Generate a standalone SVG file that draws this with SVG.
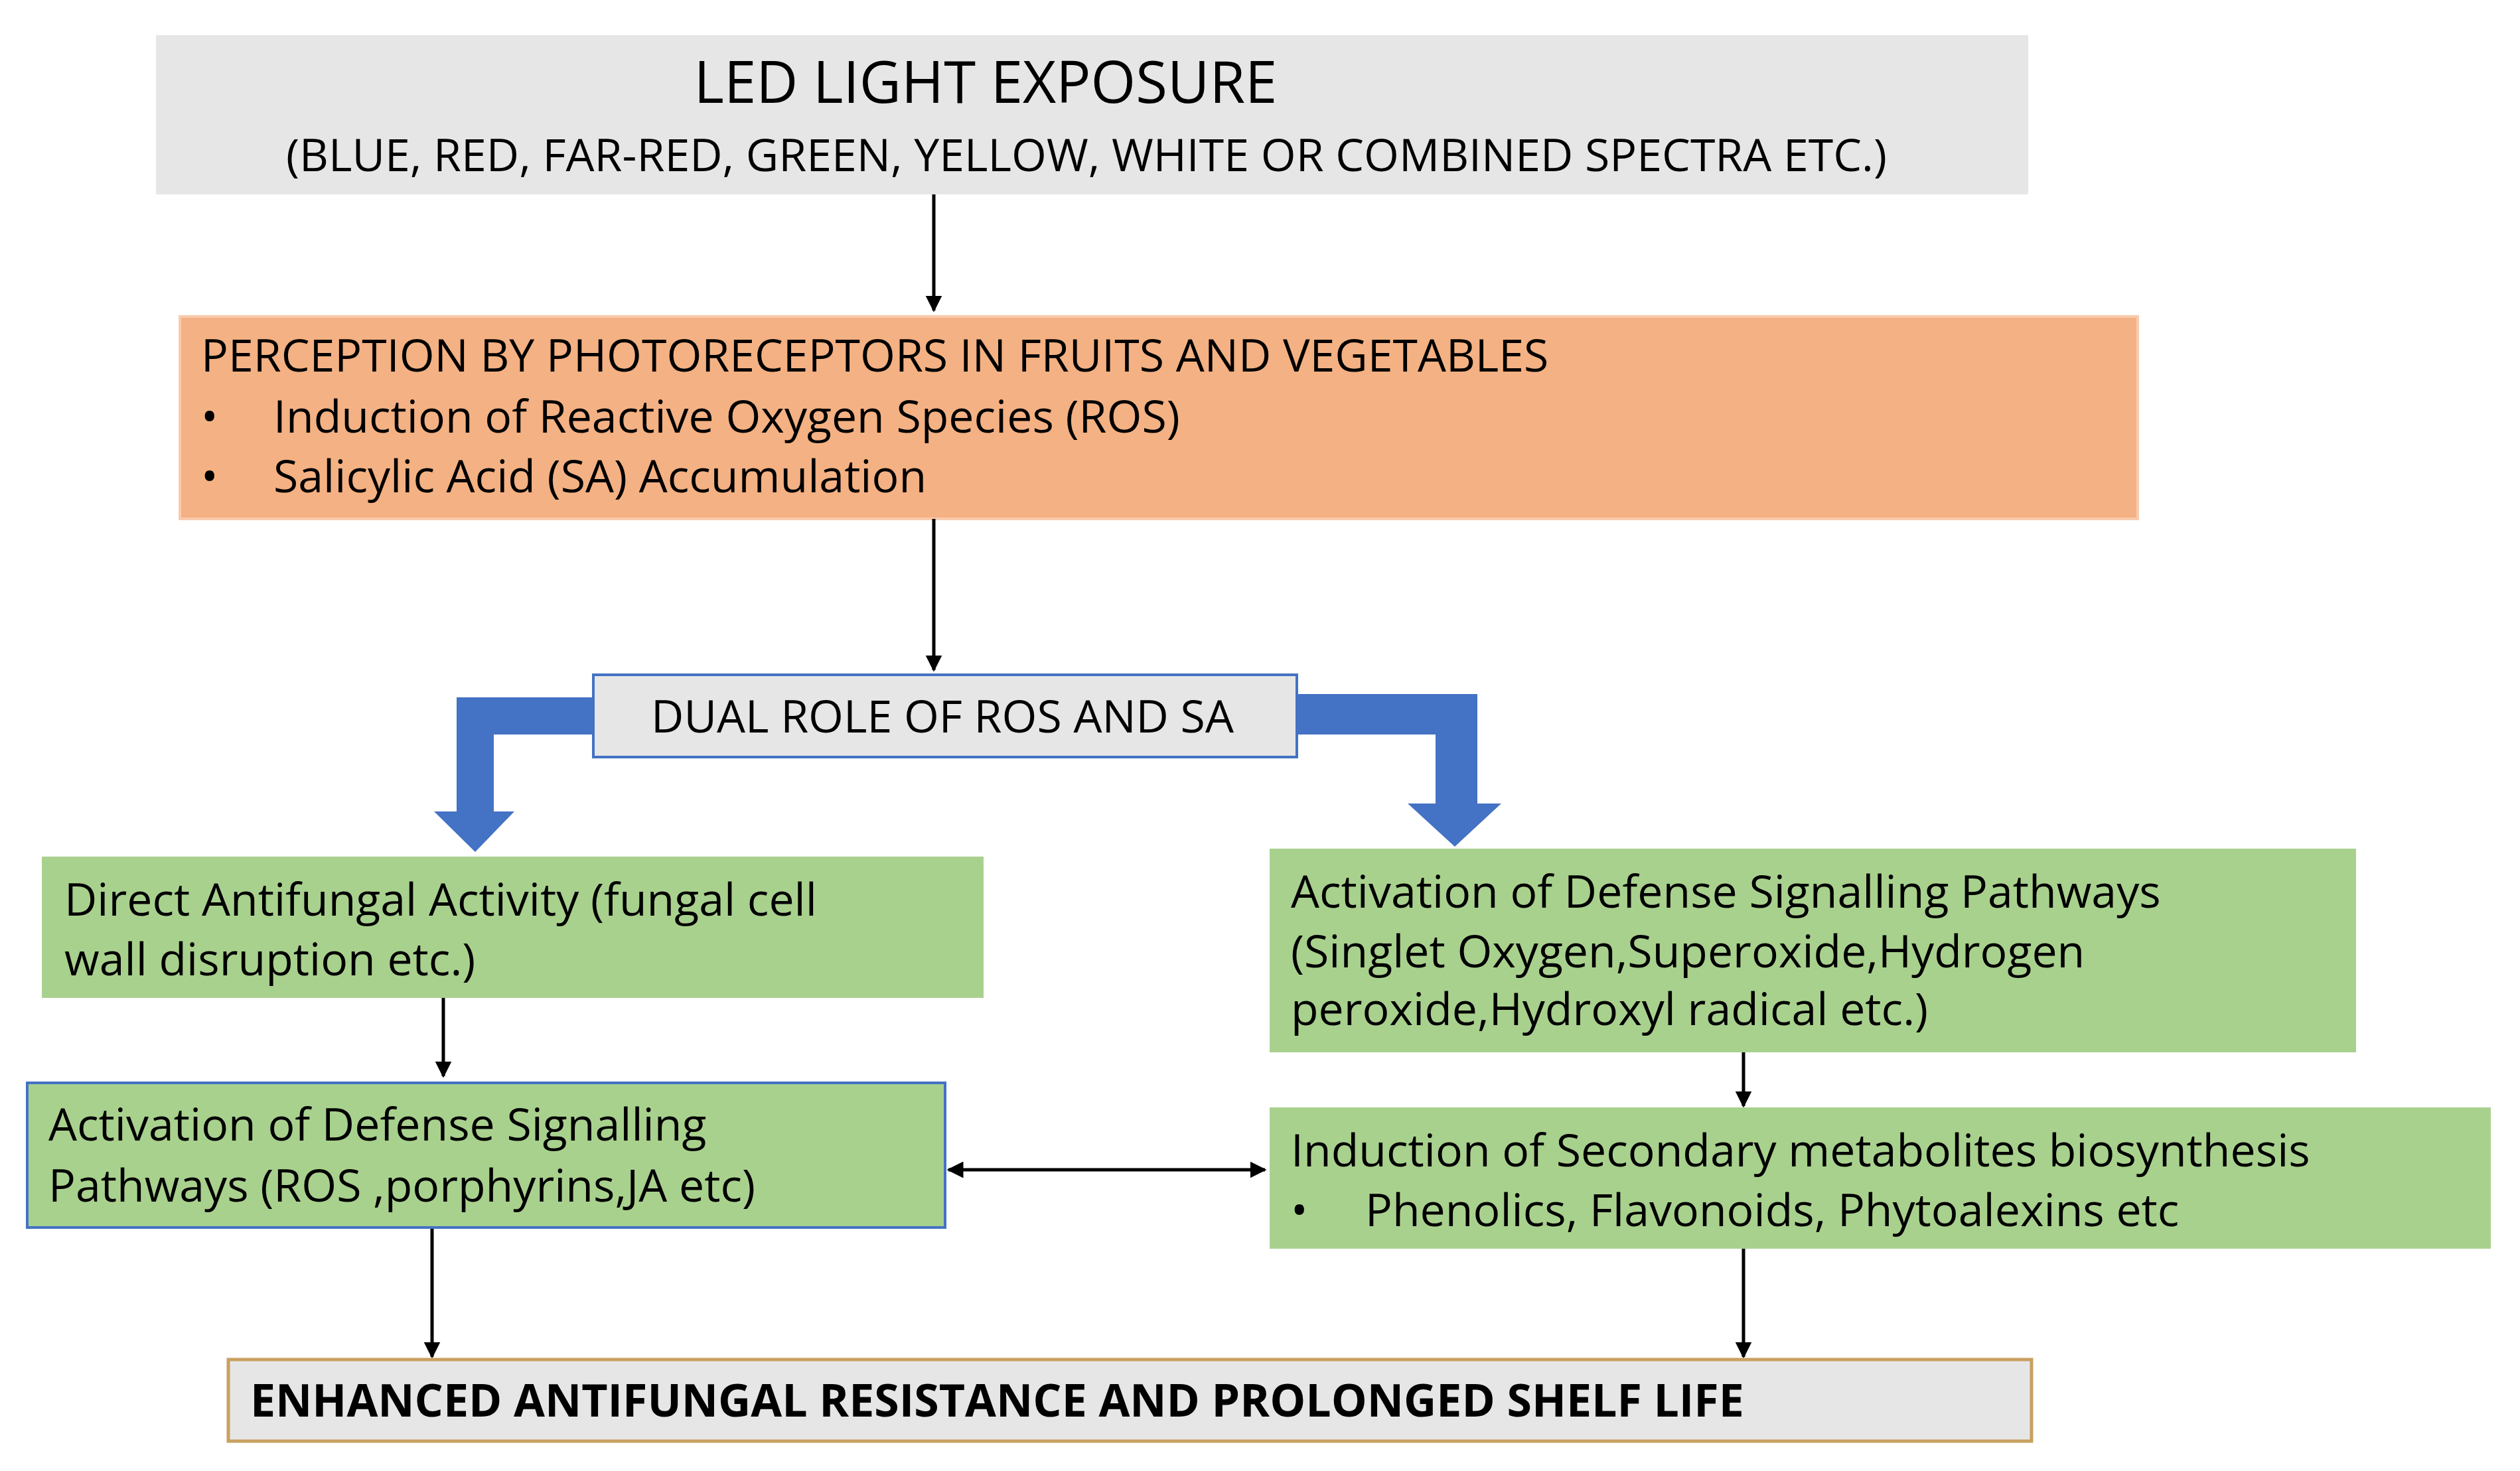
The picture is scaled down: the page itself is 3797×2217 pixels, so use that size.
<svg xmlns="http://www.w3.org/2000/svg" width="3797" height="2217" viewBox="0 0 3797 2217">
<style>
text{font-family:"Open Sans","Noto Sans","DejaVu Sans",sans-serif;fill:#000}
.t{font-size:68px}
.c{text-anchor:middle}
.ln{stroke:#000;stroke-width:5;fill:none}
.blue{fill:#4472c4}
</style>
<defs>
<marker id="ah" viewBox="0 0 10 10" refX="9" refY="5" markerWidth="5" markerHeight="5" orient="auto-start-reverse" markerUnits="strokeWidth"><path d="M0,0L10,5L0,10z" fill="#000"/></marker>
</defs>
<rect width="3797" height="2217" fill="#fff"/>
<g id="led">
<rect x="235" y="53" width="2821" height="240" fill="#e6e6e6"/>
<text x="1485" y="155" class="c" font-size="87">LED LIGHT EXPOSURE</text>
<text x="1637" y="258" class="c" font-size="68">(BLUE, RED, FAR-RED, GREEN, YELLOW, WHITE OR COMBINED SPECTRA ETC.)</text>
</g>
<g id="perception">
<rect x="271" y="477" width="2950" height="305" fill="#f4b183" stroke="#f8cbad" stroke-width="4"/>
<text x="303" y="560" class="t">PERCEPTION BY PHOTORECEPTORS IN FRUITS AND VEGETABLES</text>
<text x="303" y="652" class="t">•</text><text x="412" y="652" class="t">Induction of Reactive Oxygen Species (ROS)</text>
<text x="303" y="742" class="t">•</text><text x="412" y="742" class="t">Salicylic Acid (SA) Accumulation</text>
</g>
<g id="connectors">
<path class="blue" d="M894,1051H688V1223H654L716,1284L775,1223H744V1107H894Z"/>
<path class="blue" d="M1954,1046H2226V1211H2262L2192,1276L2121,1211H2163V1107H1954Z"/>
<line class="ln" x1="1407" y1="293" x2="1407" y2="468" marker-end="url(#ah)"/>
<line class="ln" x1="1407" y1="782" x2="1407" y2="1010" marker-end="url(#ah)"/>
<line class="ln" x1="668" y1="1504" x2="668" y2="1622" marker-end="url(#ah)"/>
<line class="ln" x1="2627" y1="1586" x2="2627" y2="1667" marker-end="url(#ah)"/>
<line class="ln" x1="1429" y1="1763" x2="1906" y2="1763" marker-start="url(#ah)" marker-end="url(#ah)"/>
<line class="ln" x1="651" y1="1850" x2="651" y2="2045" marker-end="url(#ah)"/>
<line class="ln" x1="2627" y1="1882" x2="2627" y2="2045" marker-end="url(#ah)"/>
</g>
<g id="dual">
<rect x="894" y="1017" width="1060" height="124" fill="#e6e6e6" stroke="#4472c4" stroke-width="4"/>
<text x="1420" y="1104" class="t c">DUAL ROLE OF ROS AND SA</text>
</g>
<g id="direct">
<rect x="63" y="1291" width="1419" height="213" fill="#a9d18e"/>
<text x="97" y="1380" class="t">Direct Antifungal Activity (fungal cell</text>
<text x="97" y="1470" class="t">wall disruption etc.)</text>
</g>
<g id="defenseR">
<rect x="1913" y="1279" width="1637" height="307" fill="#a9d18e"/>
<text x="1945" y="1368" class="t">Activation of Defense Signalling Pathways</text>
<text x="1945" y="1458" class="t">(Singlet Oxygen,Superoxide,Hydrogen</text>
<text x="1945" y="1545" class="t">peroxide,Hydroxyl radical etc.)</text>
</g>
<g id="defenseL">
<rect x="41" y="1632" width="1383" height="218" fill="#a9d18e" stroke="#4472c4" stroke-width="4"/>
<text x="73" y="1719" class="t">Activation of Defense Signalling</text>
<text x="73" y="1811" class="t">Pathways (ROS ,porphyrins,JA etc)</text>
</g>
<g id="secondary">
<rect x="1913" y="1669" width="1840" height="213" fill="#a9d18e"/>
<text x="1945" y="1758" class="t">Induction of Secondary metabolites biosynthesis</text>
<text x="1945" y="1848" class="t">•</text><text x="2057" y="1848" class="t">Phenolics, Flavonoids, Phytoalexins etc</text>
</g>
<g id="enhanced">
<rect x="344" y="2049" width="2717" height="123" fill="#e6e6e6" stroke="#c9a060" stroke-width="5"/>
<text x="377" y="2135" class="t" font-weight="bold">ENHANCED ANTIFUNGAL RESISTANCE AND PROLONGED SHELF LIFE</text>
</g>
</svg>
